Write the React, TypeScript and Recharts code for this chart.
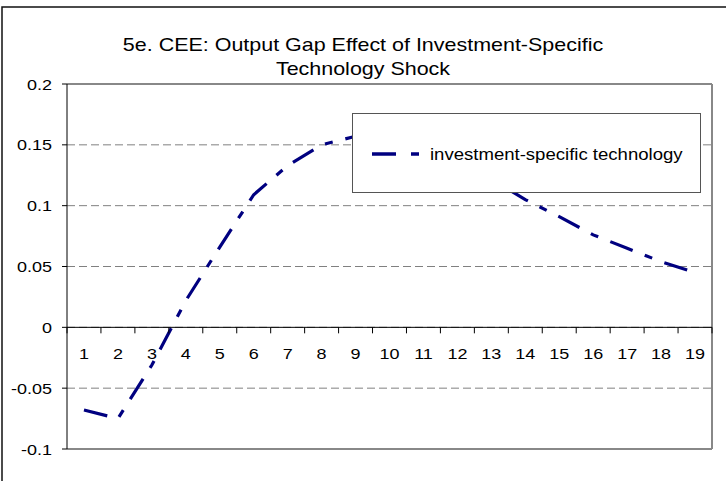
import React from "react";
import {
  LineChart,
  Line,
  XAxis,
  YAxis,
  CartesianGrid,
  ReferenceLine,
  ReferenceDot,
  Legend,
} from "recharts";

const periods = [1, 2, 3, 4, 5, 6, 7, 8, 9, 10, 11, 12, 13, 14, 15, 16, 17, 18, 19];
const outputGap = [
  -0.068, -0.075, -0.031, 0.022, 0.066, 0.109, 0.133, 0.15, 0.157, 0.156, 0.15, 0.138,
  0.122, 0.105, 0.091, 0.076, 0.065, 0.054, 0.045,
];
const yTicks = [-0.1, -0.05, 0, 0.05, 0.1, 0.15, 0.2];
const seriesName = "investment-specific technology";
const titleLines = ["5e. CEE: Output Gap Effect of Investment-Specific", "Technology Shock"];

const data = periods.map((p, i) => ({ period: p, gap: outputGap[i] }));
// tick marks sit between the categories, Excel style
const xBounds = [...periods.map((p) => p - 0.5), periods[periods.length - 1] + 0.5];

const FONT = "'Liberation Sans', Arial, sans-serif";
const STRETCH = 1.16; // the original is a bit wider than tall
const NAVY = "#000080";
const DASH = "24 13 8 13";

function YTick({ x, y, payload }: any) {
  return (
    <text
      transform={`translate(${x},${y}) scale(${STRETCH},1)`}
      textAnchor="end"
      dy="0.36em"
      fontSize={15.5}
      fontFamily={FONT}
      fill="#000"
    >
      {String(payload.value)}
    </text>
  );
}

function LegendBox() {
  return (
    <div
      style={{
        width: 349,
        height: 80,
        boxSizing: "border-box",
        border: "1.5px solid #555",
        background: "#fff",
      }}
    >
      <svg width={346} height={77}>
        <line x1={19} y1={40} x2={66} y2={40} stroke={NAVY} strokeWidth={3.5} strokeDasharray="24 15 8" />
        <text
          transform={`translate(77,45.5) scale(${STRETCH},1)`}
          fontSize={16}
          fontFamily={FONT}
          fill="#000"
        >
          {seriesName}
        </text>
      </svg>
    </div>
  );
}

export default function App() {
  return (
    <div
      style={{
        position: "fixed",
        left: 0,
        top: 0,
        width: 726,
        height: 481,
        overflow: "hidden",
        background: "#fff",
      }}
    >
      <div
        style={{
          position: "absolute",
          left: 0,
          top: 33,
          width: 726,
          textAlign: "center",
          fontFamily: FONT,
          fontSize: 18.5,
          lineHeight: "24px",
          transform: `scaleX(${STRETCH})`,
        }}
      >
        {titleLines.map((t) => (
          <div key={t}>{t}</div>
        ))}
      </div>
      <div style={{ position: "absolute", left: 0, top: 0 }}>
        <LineChart width={726} height={481} data={data} margin={{ top: 84, right: 14, bottom: 32, left: 0 }}>
          <CartesianGrid vertical={false} stroke="#808080" strokeDasharray="8 4" />
          <XAxis type="number" dataKey="period" domain={[0.5, 19.5]} hide />
          <YAxis
            type="number"
            domain={[-0.1, 0.2]}
            ticks={yTicks}
            width={67}
            tickSize={5}
            tickMargin={10}
            stroke="#000"
            axisLine={{ stroke: "#000" }}
            tickLine={{ stroke: "#000" }}
            tick={<YTick />}
          />
          <ReferenceLine y={0.2} stroke="#888" strokeWidth={2} />
          <ReferenceLine y={-0.1} stroke="#888" strokeWidth={2} />
          <ReferenceLine x={19.5} stroke="#888" strokeWidth={2} />
          <ReferenceLine y={0} stroke="#000" strokeWidth={1} />
          {xBounds.map((b) => (
            <ReferenceDot
              key={`t${b}`}
              x={b}
              y={0}
              r={0}
              shape={(p: any) => <line x1={p.cx} y1={p.cy} x2={p.cx} y2={p.cy + 6} stroke="#000" />}
            />
          ))}
          {periods.map((n) => (
            <ReferenceDot
              key={`l${n}`}
              x={n}
              y={0}
              r={0}
              shape={(p: any) => (
                <text
                  transform={`translate(${p.cx},${p.cy + 26}) scale(${STRETCH},1)`}
                  textAnchor="middle"
                  dy="0.36em"
                  fontSize={15.5}
                  fontFamily={FONT}
                  fill="#000"
                >
                  {n}
                </text>
              )}
            />
          ))}
          <Line
            type="linear"
            dataKey="gap"
            name={seriesName}
            stroke={NAVY}
            strokeWidth={3.2}
            strokeDasharray={DASH}
            dot={false}
            activeDot={false}
            isAnimationActive={false}
          />
          <Legend
            layout="horizontal"
            verticalAlign="middle"
            align="center"
            content={() => <LegendBox />}
            wrapperStyle={{ left: 352, top: 113, width: 349, height: 80 }}
          />
        </LineChart>
      </div>
      {/* chart-area frame; only its top and left edges fall inside the picture */}
      <svg
        width={726}
        height={481}
        style={{ position: "absolute", left: 0, top: 0, pointerEvents: "none" }}
      >
        <polyline points="2,481 2,7 726,7" fill="none" stroke="#111" strokeWidth={1.5} />
      </svg>
    </div>
  );
}
